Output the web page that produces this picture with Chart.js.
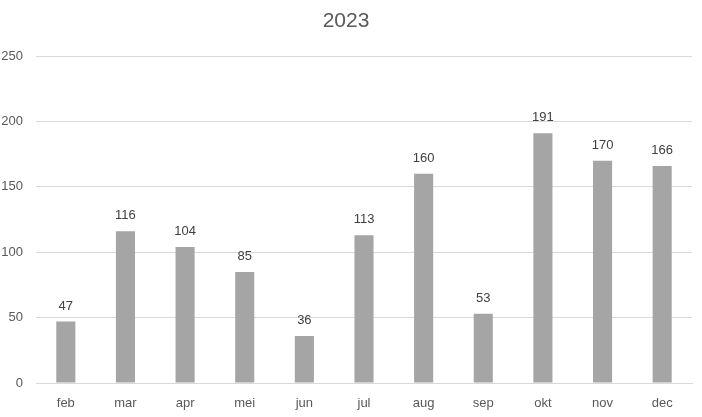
<!DOCTYPE html>
<html>
<head>
<meta charset="utf-8">
<script src="https://cdn.jsdelivr.net/npm/chart.js@4"></script>
<style>
  html, body { margin: 0; padding: 0; background: #fff; }
  #wrap { width: 702px; height: 417px; }
</style>
</head>
<body>
<div id="wrap"><canvas id="myChart"></canvas></div>
<script>
const months = ['feb', 'mar', 'apr', 'mei', 'jun', 'jul', 'aug', 'sep', 'okt', 'nov', 'dec'];
const counts = [47, 116, 104, 85, 36, 113, 160, 53, 191, 170, 166];
const yTicks = [0, 50, 100, 150, 200, 250];

const fontFam = '"Liberation Sans", Arial, sans-serif';

// labels above the bars, like excel data labels
const barLabels = {
  id: 'barLabels',
  afterDatasetsDraw(chart) {
    const ctx = chart.ctx;
    const meta = chart.getDatasetMeta(0);
    ctx.save();
    ctx.font = '13px ' + fontFam;
    ctx.fillStyle = '#404040';
    ctx.textAlign = 'center';
    ctx.textBaseline = 'bottom';
    meta.data.forEach((bar, i) => {
      ctx.fillText(counts[i], bar.x, bar.y - 9);
    });
    ctx.restore();
  }
};

const ctx = document.getElementById('myChart');

new Chart(ctx, {
  type: 'bar',
  data: {
    labels: months,
    datasets: [{
      label: '2023',
      data: counts,
      backgroundColor: '#a5a5a5',
      borderWidth: 0,
      barPercentage: 0.32,
      categoryPercentage: 1
    }]
  },
  options: {
    responsive: true,
    maintainAspectRatio: false,
    animation: false,
    layout: { padding: { left: 0, right: 10, top: 0, bottom: 6 } },
    plugins: {
      legend: { display: false },
      tooltip: { enabled: false },
      title: {
        display: true,
        text: '2023',
        color: '#595959',
        font: { family: fontFam, size: 21, weight: 'normal' },
        padding: { top: 9, bottom: 22 }
      }
    },
    scales: {
      x: {
        afterFit: (s) => { s.height = 28; },
        grid: { display: false, drawTicks: false },
        border: { color: '#d9d9d9' },
        ticks: {
          color: '#595959',
          font: { family: fontFam, size: 13 },
          padding: 13
        }
      },
      y: {
        min: 0,
        max: 250,
        afterBuildTicks: (s) => { s.ticks = yTicks.map(v => ({ value: v })); },
        afterFit: (s) => { s.width = 36; },
        grid: { color: '#d9d9d9', drawTicks: false },
        border: { display: false },
        ticks: {
          color: '#595959',
          font: { family: fontFam, size: 13 },
          padding: 13
        }
      }
    }
  },
  plugins: [barLabels]
});
</script>
</body>
</html>
